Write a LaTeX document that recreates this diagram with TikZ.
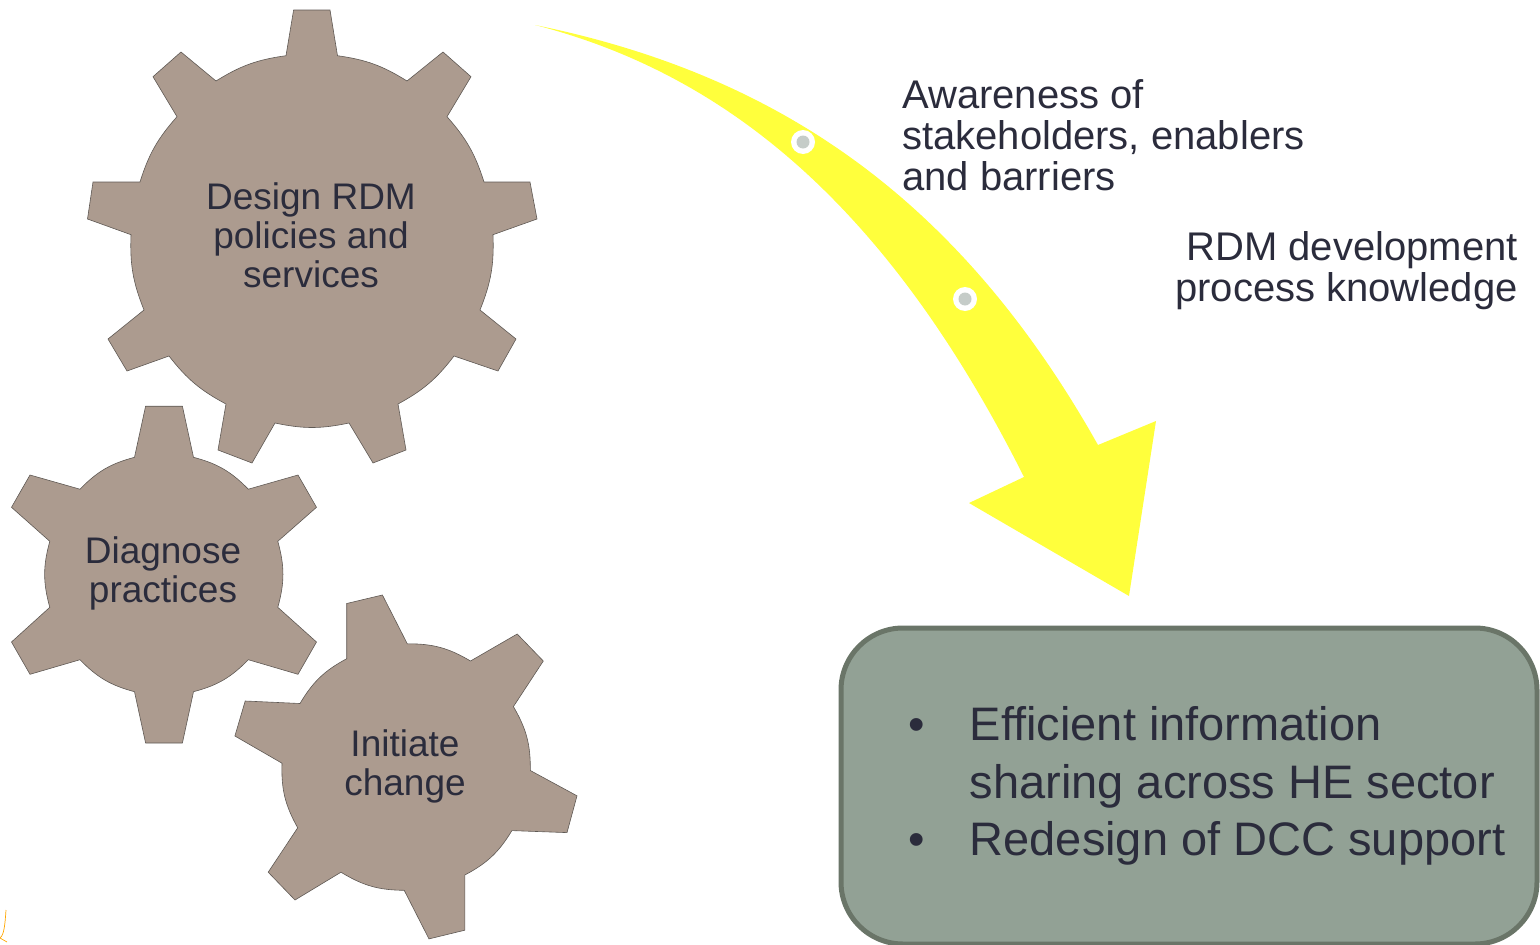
\documentclass[tikz,border=0pt]{standalone}
\usepackage{fontspec}
\setmainfont{Liberation Sans}
\definecolor{gearfill}{HTML}{AC9B8F}
\definecolor{gearline}{HTML}{5F5954}
\definecolor{inktext}{HTML}{2B2C3C}
\definecolor{boxfill}{HTML}{92A195}
\definecolor{boxline}{HTML}{6A7568}
\definecolor{dotfill}{HTML}{C5CCC8}
\definecolor{arrowfill}{HTML}{FFFF3C}
\begin{document}
\begin{tikzpicture}[x=1pt,y=-1pt]
	\tikzstyle{gear}=[fill=gearfill,draw=gearline,line width=0.6pt,line join=miter]
	\tikzstyle{gearlabel}=[text=inktext,align=center,inner sep=0pt,font=\fontsize{37}{39}\selectfont]
	\tikzstyle{sidelabel}=[text=inktext,inner sep=0pt,font=\fontsize{40}{41}\selectfont]
	\tikzstyle{dotring}=[circle,fill=white,minimum size=24pt,inner sep=0pt]
	\tikzstyle{dotcore}=[circle,fill=dotfill,minimum size=13pt,inner sep=0pt]
	\tikzstyle{b1}=[bend left=12]
	\tikzstyle{b2}=[bend left=15.5]
	\useasboundingbox (0,0) rectangle (1540,945);

	\draw[gear] (293.6,10) -- (330,10) -- (337.5,55.7) to[b1] (407,81) -- (443,52) -- (471,76.7) -- (447,116.7)
		to[b1] (484,182) -- (530,182) -- (537,219) -- (493,234.7) to[b1] (480,310) -- (516,339) -- (498,371) -- (454,356)
		to[b1] (398,404) -- (406,450) -- (373,463) -- (349,423) to[b1] (275,423) -- (252,463) -- (218,450) -- (226,404)
		to[b1] (169,356) -- (127,371) -- (108,339) -- (144,310) to[b1] (131,234.7) -- (87.5,219) -- (93,182) -- (140,182)
		to[b1] (177,116.7) -- (153,76.7) -- (181,52) -- (216,81) to[b1] (286,55.7) -- cycle;

	\draw[gear] (145.6,406.2) -- (182.4,406.2) -- (193.5,457.3) to[b2] (248.3,489.2) -- (298,475) -- (316.5,507.3) -- (277.8,541.3)
		to[b2] (277.8,607.3) -- (316.5,642) -- (298,674.3) -- (248.3,659.7) to[b2] (193.5,691.7) -- (182.4,743) -- (145.6,743) -- (134.5,691.7)
		to[b2] (80,659.7) -- (30,674.3) -- (11.5,642) -- (49.8,607.3) to[b2] (49.8,541.3) -- (11.5,507.3) -- (30,475) -- (80,489.2)
		to[b2] (134.5,457.3) -- cycle;

	\draw[gear] (346.7,603.5) -- (382.4,595) -- (407.3,643.8) to[b2] (470.5,661) -- (517.2,634) -- (543.3,661) -- (513.4,706.6)
		to[b2] (530.3,770.5) -- (577,795.8) -- (567,832.6) -- (511.9,830.6) to[b2] (464.8,875) -- (464.8,930.2) -- (429,938.9) -- (404.2,890.3)
		to[b2] (341,872.2) -- (295,900) -- (268.2,872.2) -- (297.7,827.8) to[b2] (282,763.2) -- (234.9,736) -- (245.2,701) -- (300,703.5)
		to[b2] (346.7,658.7) -- cycle;

	\fill[arrowfill] (535,25) .. controls (780,75) and (960,200) .. (1098,445) -- (1156,421) -- (1129,596) -- (969,503) -- (1024,477)
		.. controls (890,210) and (730,75) .. (535,25) -- cycle;

	\node[dotring] (ringa) at (803,142) {};
	\node[dotcore] (corea) at (ringa) {};
	\node[dotring] (ringb) at (965,299) {};
	\node[dotcore] (coreb) at (ringb) {};

	\node[gearlabel] (design) at (311,235) {Design RDM\\policies and\\services};
	\node[gearlabel] (diagnose) at (163,573) {Diagnose\\practices};
	\node[gearlabel] (initiate) at (405,766) {Initiate\\change};

	\node[sidelabel,align=left,anchor=north west] (awareness) at (902,79) {Awareness of\\stakeholders, enablers\\and barriers};
	\node[sidelabel,align=right,anchor=north east] (process) at (1518,231) {RDM development\\process knowledge};

	\node[draw=boxline,fill=boxfill,line width=5pt,rounded corners=62pt,outer sep=0pt,inner sep=0pt,
		minimum width=696pt,minimum height=316pt,text=inktext,align=left,font=\fontsize{47}{57.5}\selectfont] (outcome) at (1189,786)
		{\makebox[97pt][l]{\hspace{36pt}•}Efficient information\\\hspace*{97pt}sharing across HE sector\\\makebox[97pt][l]{\hspace{36pt}•}Redesign of DCC support};

	\draw[orange!70!yellow,line width=0.7pt] (6,910) .. controls (5,925) and (4,935) .. (0,938) -- (7,942);
\end{tikzpicture}
\end{document}
